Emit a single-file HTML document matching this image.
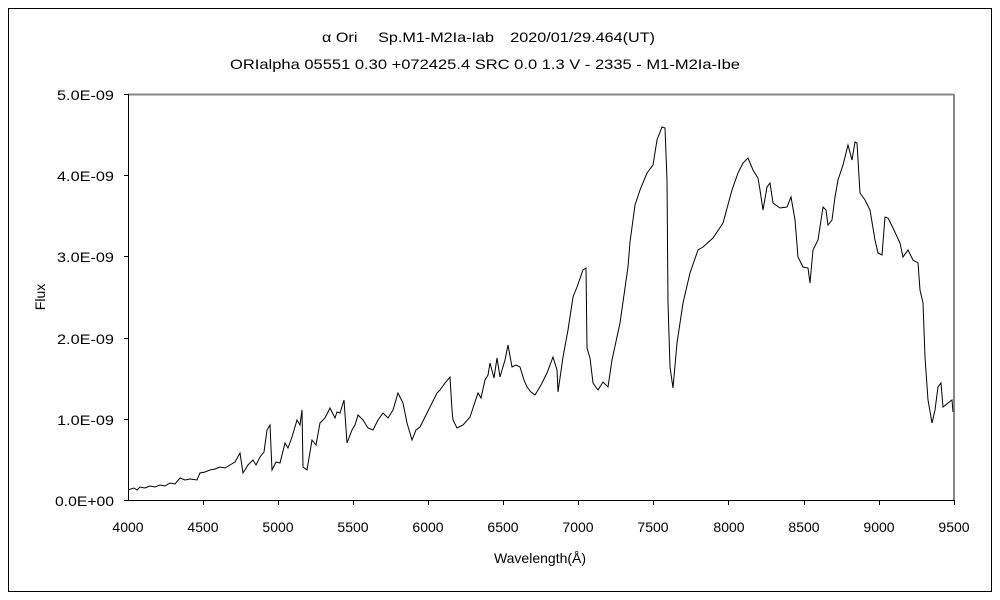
<!DOCTYPE html>
<html><head><meta charset="utf-8"><style>
body{margin:0;background:#fff;}
svg{display:block;font-family:"Liberation Sans","Noto Sans CJK JP",sans-serif;}
</style></head><body>
<svg width="1000" height="600" viewBox="0 0 1000 600">
<rect x="0" y="0" width="1000" height="600" fill="#fff"/>
<rect x="8.5" y="8.5" width="983" height="583" fill="none" stroke="#000" stroke-width="1"/>
<text x="322" y="42" font-size="14" textLength="333" lengthAdjust="spacingAndGlyphs">α Ori　 Sp.M1-M2Ia-Iab　2020/01/29.464(UT)</text>
<text x="230" y="69" font-size="14" textLength="510" lengthAdjust="spacingAndGlyphs">ORIalpha 05551 0.30 +072425.4 SRC 0.0 1.3 V - 2335 - M1-M2Ia-Ibe</text>
<line x1="128" y1="94.5" x2="954" y2="94.5" stroke="#888" stroke-width="2"/>
<line x1="954" y1="94" x2="954" y2="500" stroke="#888" stroke-width="2"/>
<line x1="128.5" y1="94" x2="128.5" y2="501" stroke="#000"/>
<line x1="128" y1="500.5" x2="954" y2="500.5" stroke="#000"/>
<g stroke="#000">
<line x1="124" y1="94.5" x2="128" y2="94.5"/><line x1="124" y1="175.5" x2="128" y2="175.5"/><line x1="124" y1="256.5" x2="128" y2="256.5"/><line x1="124" y1="338.5" x2="128" y2="338.5"/><line x1="124" y1="419.5" x2="128" y2="419.5"/><line x1="124" y1="500.5" x2="128" y2="500.5"/>
<line x1="203.5" y1="500" x2="203.5" y2="505"/><line x1="278.5" y1="500" x2="278.5" y2="505"/><line x1="353.5" y1="500" x2="353.5" y2="505"/><line x1="428.5" y1="500" x2="428.5" y2="505"/><line x1="503.5" y1="500" x2="503.5" y2="505"/><line x1="578.5" y1="500" x2="578.5" y2="505"/><line x1="653.5" y1="500" x2="653.5" y2="505"/><line x1="728.5" y1="500" x2="728.5" y2="505"/><line x1="804.5" y1="500" x2="804.5" y2="505"/><line x1="879.5" y1="500" x2="879.5" y2="505"/><line x1="954.5" y1="500" x2="954.5" y2="505"/>
</g>
<g font-size="14">
<text x="57" y="100" textLength="57" lengthAdjust="spacingAndGlyphs">5.0E-09</text>
<text x="57" y="181" textLength="57" lengthAdjust="spacingAndGlyphs">4.0E-09</text>
<text x="57" y="262" textLength="57" lengthAdjust="spacingAndGlyphs">3.0E-09</text>
<text x="57" y="344" textLength="57" lengthAdjust="spacingAndGlyphs">2.0E-09</text>
<text x="57" y="425" textLength="57" lengthAdjust="spacingAndGlyphs">1.0E-09</text>
<text x="55" y="506" textLength="59" lengthAdjust="spacingAndGlyphs">0.0E+00</text>
</g>
<g font-size="14" text-anchor="middle">
<text x="128" y="532">4000</text><text x="203" y="532">4500</text><text x="278" y="532">5000</text><text x="353" y="532">5500</text><text x="428" y="532">6000</text><text x="503" y="532">6500</text><text x="578" y="532">7000</text><text x="653" y="532">7500</text><text x="729" y="532">8000</text><text x="804" y="532">8500</text><text x="879" y="532">9000</text><text x="954" y="532">9500</text>
<text x="540" y="563">Wavelength(Å)</text>
<text x="0" y="0" transform="translate(45,297) rotate(-90)">Flux</text>
</g>
<polyline fill="none" stroke="#000" stroke-width="1" points="128,490 134,488 137,490 140,487 145,488 150,486 155,487 160,485 165,486 170,483 175,484 180,478 185,480 190,479 197,480 200,473 205,472 210,470 215,469 220,467 225,468 230,465 235,462 240,453 243,473 248,465 253,460 256,465 260,457 264,452 267,430 270,425 272,470 276,462 280,463 285,443 288,448 292,437 297,420 300,425 302,410 303,467 307,470 312,440 316,445 320,423 325,418 330,408 335,418 337,412 340,413 344,400 347,443 352,430 355,425 358,415 363,420 368,428 373,430 378,420 383,413 388,418 393,410 398,393 403,403 407,423 412,440 416,430 420,427 425,417 430,407 437,393 440,390 445,383 450,377 452,410 453,420 457,428 463,425 470,417 474,405 478,393 481,398 485,380 488,375 490,363 494,378 497,358 500,377 505,360 508,345 512,367 516,365 520,367 524,380 527,387 531,392 535,395 541,385 547,373 553,357 557,370 558,392 563,357 568,330 573,297 577,287 583,270 586,268 587,348 590,358 593,383 598,390 603,382 608,387 612,360 620,323 628,267 630,242 635,205 640,190 647,173 653,165 657,140 662,127 665,128 667,180 668,303 670,367 673,388 677,343 683,303 690,273 698,250 703,247 713,238 723,223 732,190 738,173 743,163 748,158 753,170 758,178 760,190 763,210 767,187 770,183 773,203 780,208 787,207 791,197 795,220 798,257 803,267 808,268 810,283 813,250 818,240 823,207 826,210 828,225 832,220 835,197 838,180 843,165 848,145 852,160 855,142 857,143 860,193 865,200 870,210 875,240 878,253 882,255 885,217 888,218 893,228 900,243 903,257 908,250 913,260 918,263 920,290 923,303 925,357 928,400 932,423 935,410 938,387 941,383 943,407 948,403 952,400 953,412"/>
</svg>
</body></html>
